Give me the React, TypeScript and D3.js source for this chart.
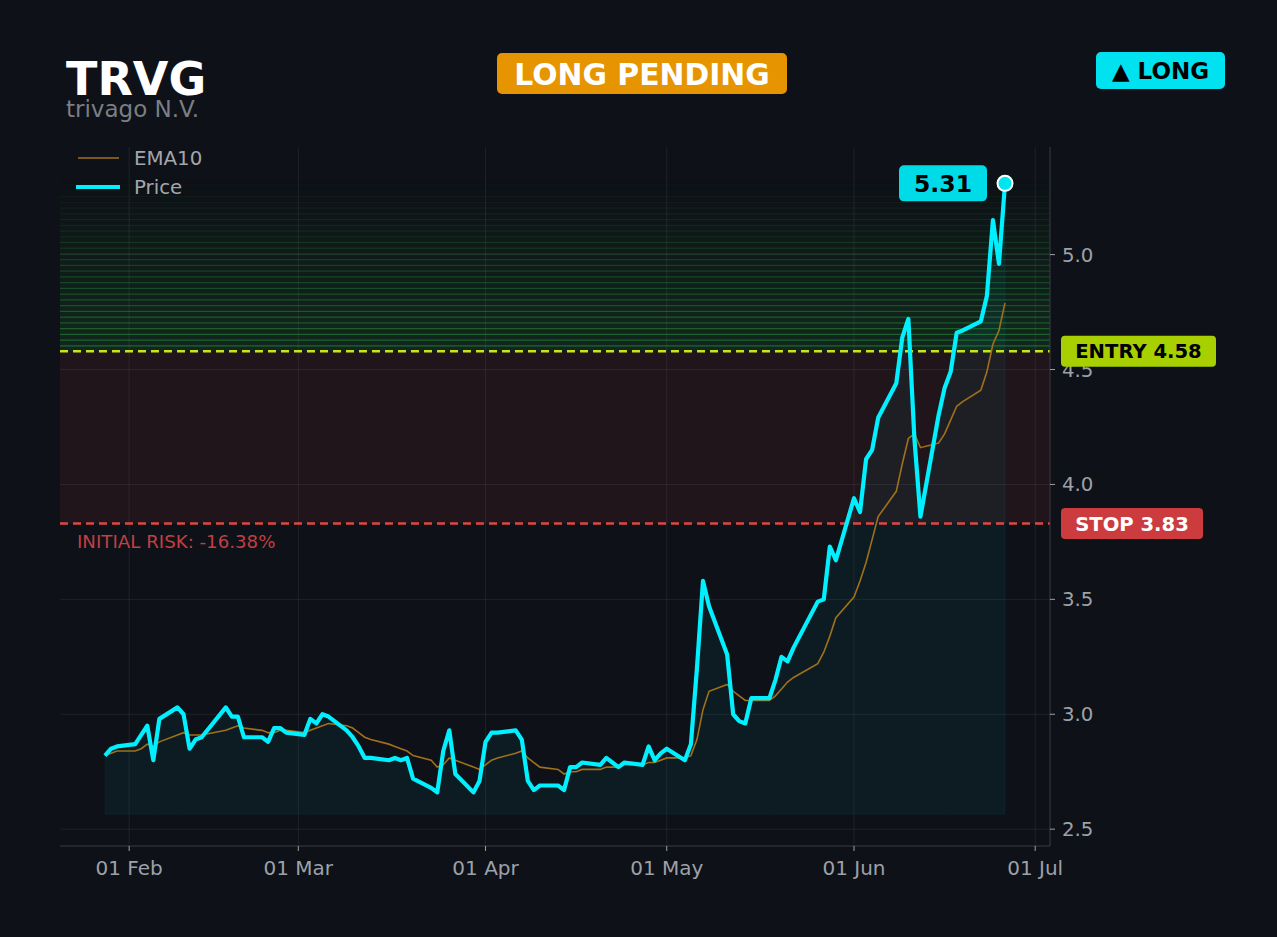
import * as d3 from "d3";

// displayed dates (as plotted), price closes and EMA10
const dates = [
  "2025-01-28", "2025-01-29", "2025-01-30",
  "2025-02-02", "2025-02-03", "2025-02-04", "2025-02-05", "2025-02-06",
  "2025-02-09", "2025-02-10", "2025-02-11", "2025-02-12", "2025-02-13",
  "2025-02-17", "2025-02-18", "2025-02-19", "2025-02-20",
  "2025-02-23", "2025-02-24", "2025-02-25", "2025-02-26", "2025-02-27",
  "2025-03-02", "2025-03-03", "2025-03-04", "2025-03-05", "2025-03-06",
  "2025-03-09", "2025-03-10", "2025-03-11", "2025-03-12", "2025-03-13",
  "2025-03-16", "2025-03-17", "2025-03-18", "2025-03-19", "2025-03-20",
  "2025-03-23", "2025-03-24", "2025-03-25", "2025-03-26", "2025-03-27",
  "2025-03-30", "2025-03-31", "2025-04-01", "2025-04-02", "2025-04-03",
  "2025-04-06", "2025-04-07", "2025-04-08", "2025-04-09", "2025-04-10",
  "2025-04-13", "2025-04-14", "2025-04-15", "2025-04-16", "2025-04-17",
  "2025-04-20", "2025-04-21", "2025-04-22", "2025-04-23", "2025-04-24",
  "2025-04-27", "2025-04-28", "2025-04-29", "2025-04-30", "2025-05-01",
  "2025-05-04", "2025-05-05", "2025-05-06", "2025-05-07", "2025-05-08",
  "2025-05-11", "2025-05-12", "2025-05-13", "2025-05-14", "2025-05-15",
  "2025-05-18", "2025-05-19", "2025-05-20", "2025-05-21", "2025-05-22",
  "2025-05-26", "2025-05-27", "2025-05-28", "2025-05-29",
  "2025-06-01", "2025-06-02", "2025-06-03", "2025-06-04", "2025-06-05",
  "2025-06-08", "2025-06-09", "2025-06-10", "2025-06-11", "2025-06-12",
  "2025-06-15", "2025-06-16", "2025-06-17", "2025-06-18", "2025-06-19",
  "2025-06-22", "2025-06-23", "2025-06-24", "2025-06-25", "2025-06-26",
];

const price = [
  2.82, 2.85, 2.86,
  2.87, 2.91, 2.95, 2.8, 2.98,
  3.03, 3.0, 2.85, 2.89, 2.9,
  3.03, 2.99, 2.99, 2.9,
  2.9, 2.88, 2.94, 2.94, 2.92,
  2.91, 2.98, 2.96, 3.0, 2.99,
  2.93, 2.9, 2.86, 2.81, 2.81,
  2.8, 2.81, 2.8, 2.81, 2.72,
  2.68, 2.66, 2.84, 2.93, 2.74,
  2.66, 2.71, 2.88, 2.92, 2.92,
  2.93, 2.89, 2.71, 2.67, 2.69,
  2.69, 2.67, 2.77, 2.77, 2.79,
  2.78, 2.81, 2.79, 2.77, 2.79,
  2.78, 2.86, 2.8, 2.83, 2.85,
  2.8, 2.87, 3.2, 3.58, 3.47,
  3.26, 3.0, 2.97, 2.96, 3.07,
  3.07, 3.15, 3.25, 3.23, 3.29,
  3.49, 3.5, 3.73, 3.67,
  3.94, 3.88, 4.11, 4.15, 4.29,
  4.44, 4.64, 4.72, 4.2, 3.86,
  4.3, 4.42, 4.49, 4.66, 4.67,
  4.71, 4.82, 5.15, 4.96, 5.31,
];

const ema10 = [
  2.82, 2.83, 2.84,
  2.84, 2.85, 2.87, 2.86, 2.88,
  2.91, 2.92, 2.91, 2.91, 2.91,
  2.93, 2.94, 2.95, 2.94,
  2.93, 2.92, 2.92, 2.93, 2.93,
  2.92, 2.93, 2.94, 2.95, 2.96,
  2.95, 2.94, 2.92, 2.9, 2.89,
  2.87, 2.86, 2.85, 2.84, 2.82,
  2.8, 2.77, 2.78, 2.81, 2.8,
  2.77, 2.76, 2.78, 2.8, 2.81,
  2.83, 2.84, 2.81, 2.79, 2.77,
  2.76, 2.74, 2.75, 2.75, 2.76,
  2.76, 2.77, 2.77, 2.77, 2.78,
  2.78, 2.79, 2.79, 2.8, 2.81,
  2.81, 2.82, 2.89, 3.02, 3.1,
  3.13, 3.1, 3.08, 3.06, 3.06,
  3.06, 3.08, 3.11, 3.14, 3.16,
  3.22, 3.27, 3.34, 3.42,
  3.51, 3.58, 3.66, 3.76, 3.86,
  3.97, 4.09, 4.2, 4.22, 4.16,
  4.18, 4.22, 4.28, 4.34, 4.36,
  4.41, 4.49, 4.61, 4.67, 4.79,
];

const yTicks = [2.5, 3.0, 3.5, 4.0, 4.5, 5.0];
const ticker = "TRVG";
const company = "trivago N.V.";
const status = "LONG PENDING";
const direction = "▲ LONG";
const ENTRY = 4.58;
const STOP = 3.83;
const FILL_BASE = 2.565;
const ZONE_TOP = 5.33;
const ZONE_BANDS = 30;

const W = 1277;
const H = 937;
const plot = { left: 60, right: 1050, top: 147, bottom: 846 };
const FONT = "DejaVu Sans, sans-serif";
const BG = "#0e1117";
const CYAN = "#00f0ff";
const TICK = "#9da1a8";

export default function App() {
  const parse = d3.utcParse("%Y-%m-%d");
  const rows = dates.map((d, i) => ({ date: parse(d) as Date, price: price[i], ema: ema10[i] }));
  const [t0, t1] = d3.extent(rows, (r) => r.date) as [Date, Date];
  const pad = (+t1 - +t0) * 0.05;
  const x = d3
    .scaleUtc()
    .domain([new Date(+t0 - pad), new Date(+t1 + pad)])
    .range([plot.left, plot.right]);
  const yPad = (ZONE_TOP - FILL_BASE) * 0.05;
  const y = d3
    .scaleLinear()
    .domain([FILL_BASE - yPad, ZONE_TOP + yPad])
    .range([plot.bottom, plot.top]);

  const monthTicks = x.ticks(d3.utcMonth.every(1) as d3.TimeInterval);
  const fmt = d3.utcFormat("%d %b");

  const priceLine = d3
    .line<(typeof rows)[number]>()
    .x((d) => x(d.date))
    .y((d) => y(d.price));
  const emaLine = d3
    .line<(typeof rows)[number]>()
    .x((d) => x(d.date))
    .y((d) => y(d.ema));
  const area = d3
    .area<(typeof rows)[number]>()
    .x((d) => x(d.date))
    .y0(y(FILL_BASE))
    .y1((d) => y(d.price));

  const bandH = (ZONE_TOP - ENTRY) / ZONE_BANDS;
  const bands = d3.range(ZONE_BANDS).map((i) => ({
    lo: ENTRY + i * bandH,
    hi: ENTRY + (i + 1) * bandH,
    a: 1 - i / ZONE_BANDS,
  }));

  const last = rows[rows.length - 1];
  const lx = x(last.date);
  const ly = y(last.price);
  const risk = `INITIAL RISK: ${(((STOP - ENTRY) / ENTRY) * 100).toFixed(2)}%`;

  return (
    <svg
      width={W}
      height={H}
      style={{ position: "absolute", left: 0, top: 0, display: "block" }}
      fontFamily={FONT}
    >
      <rect width={W} height={H} fill={BG} />

      {/* risk zone */}
      <rect
        x={plot.left}
        width={plot.right - plot.left}
        y={y(ENTRY)}
        height={y(STOP) - y(ENTRY)}
        fill="rgba(224,64,64,0.09)"
      />
      {/* reward zone gradient */}
      {bands.map((b, i) => (
        <g key={i}>
          <rect
            x={plot.left}
            width={plot.right - plot.left}
            y={y(b.hi)}
            height={y(b.lo) - y(b.hi)}
            fill={`rgba(40,190,70,${0.13 * b.a})`}
          />
          <line
            x1={plot.left}
            x2={plot.right}
            y1={y(b.hi) + 0.5}
            y2={y(b.hi) + 0.5}
            stroke={`rgba(50,200,70,${0.4 * b.a})`}
            strokeWidth={1.2}
          />
        </g>
      ))}

      {/* grid */}
      {yTicks.map((t) => (
        <line key={t} x1={plot.left} x2={plot.right} y1={y(t)} y2={y(t)} stroke="rgba(255,255,255,0.07)" />
      ))}
      {monthTicks.map((t) => (
        <line key={+t} x1={x(t)} x2={x(t)} y1={plot.top} y2={plot.bottom} stroke="rgba(255,255,255,0.07)" />
      ))}

      {/* fill under price */}
      <path d={area(rows) ?? ""} fill="rgba(0,229,255,0.05)" stroke="rgba(0,229,255,0.05)" />

      {/* entry / stop */}
      <line x1={plot.left} x2={plot.right} y1={y(ENTRY)} y2={y(ENTRY)} stroke="#cde21a" strokeWidth={2.5} strokeDasharray="8 5" />
      <line x1={plot.left} x2={plot.right} y1={y(STOP)} y2={y(STOP)} stroke="#e04646" strokeWidth={2.5} strokeDasharray="8 5" />
      <text x={77} y={y(STOP) + 24} fontSize={18.2} fill="#c23f42">
        {risk}
      </text>

      {/* series */}
      <path d={emaLine(rows) ?? ""} fill="none" stroke="#a0701a" strokeWidth={1.6} />
      <path d={priceLine(rows) ?? ""} fill="none" stroke={CYAN} strokeWidth={4.2} strokeLinejoin="round" />

      {/* last price marker */}
      <circle cx={lx} cy={ly} r={7.5} fill="#00e5f0" stroke="#ffffff" strokeWidth={2} />
      <rect x={lx - 106} y={ly - 18} width={88} height={36} rx={5} fill="#00dbe8" />
      <text x={lx - 62} y={ly + 8.5} fontSize={23.5} fontWeight="bold" textAnchor="middle" fill="#000">
        {last.price.toFixed(2)}
      </text>

      {/* spines */}
      <line x1={plot.left} x2={plot.right} y1={plot.bottom} y2={plot.bottom} stroke="#3a3d44" />
      <line x1={plot.right} x2={plot.right} y1={plot.top} y2={plot.bottom} stroke="#3a3d44" />

      {/* y axis (right) */}
      {yTicks.map((t) => (
        <g key={t}>
          <line x1={plot.right} x2={plot.right + 5} y1={y(t)} y2={y(t)} stroke={TICK} />
          <text x={plot.right + 12} y={y(t) + 7} fontSize={19.8} fill={TICK}>
            {t.toFixed(1)}
          </text>
        </g>
      ))}
      {/* x axis */}
      {monthTicks.map((t) => (
        <g key={+t}>
          <line x1={x(t)} x2={x(t)} y1={plot.bottom} y2={plot.bottom + 5} stroke={TICK} />
          <text x={x(t)} y={plot.bottom + 29} fontSize={20} fill={TICK} textAnchor="middle">
            {fmt(t)}
          </text>
        </g>
      ))}

      {/* legend */}
      <line x1={78} x2={119} y1={158} y2={158} stroke="#a0701a" strokeWidth={1.6} />
      <text x={134} y={165} fontSize={19.8} fill="#a3a6ab">
        EMA10
      </text>
      <line x1={76} x2={120} y1={187} y2={187} stroke={CYAN} strokeWidth={4.2} />
      <text x={134} y={194} fontSize={19.8} fill="#a3a6ab">
        Price
      </text>

      {/* entry / stop badges */}
      <rect x={plot.right + 11} y={y(ENTRY) - 15.5} width={155} height={31} rx={4} fill="#a8d000" />
      <text x={plot.right + 88.5} y={y(ENTRY) + 7} fontSize={19.6} fontWeight="bold" textAnchor="middle" fill="#000">
        {`ENTRY ${ENTRY.toFixed(2)}`}
      </text>
      <rect x={plot.right + 11} y={y(STOP) - 15.5} width={142} height={31} rx={4} fill="#cc3b3d" />
      <text x={plot.right + 82} y={y(STOP) + 7} fontSize={19.6} fontWeight="bold" textAnchor="middle" fill="#fff">
        {`STOP ${STOP.toFixed(2)}`}
      </text>

      {/* header */}
      <text x={66} y={95} fontSize={46} fontWeight="bold" fill="#ffffff">
        {ticker}
      </text>
      <text x={66} y={116.5} fontSize={23} fill="#7b7e84">
        {company}
      </text>
      <rect x={497} y={53} width={290} height={41} rx={5} fill="#e69500" />
      <text x={642} y={84.5} fontSize={29.8} fontWeight="bold" textAnchor="middle" fill="#ffffff">
        {status}
      </text>
      <rect x={1096} y={52} width={129} height={37} rx={5} fill="#00e2ef" />
      <text x={1160.5} y={79} fontSize={23} fontWeight="bold" textAnchor="middle" fill="#000">
        {direction}
      </text>
    </svg>
  );
}
